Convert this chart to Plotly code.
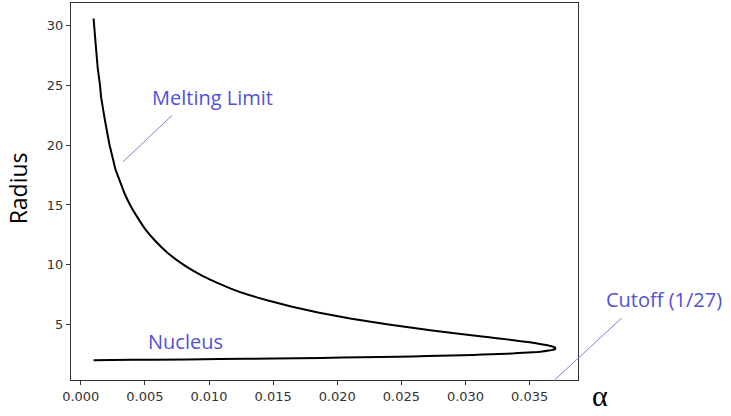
import plotly.graph_objects as go

# Curve (alpha, radius), traversed from the nucleus branch, past the cutoff tip, up the melting limit
alpha = [0.0010, 0.0024, 0.0058, 0.0108, 0.0151, 0.0188, 0.0219, 0.0247, 0.0270, 0.0289,
         0.0306, 0.0320, 0.0332, 0.0341, 0.0349, 0.0356, 0.0361, 0.0364, 0.0367, 0.0369,
         0.0370, 0.0370, 0.0370, 0.0369, 0.0368, 0.0366, 0.0364, 0.0359, 0.0355, 0.0350,
         0.0343, 0.0332, 0.0324, 0.0313, 0.0293, 0.0274, 0.0257, 0.0240, 0.0210, 0.0185,
         0.0164, 0.0146, 0.0130, 0.0117, 0.0106, 0.0096, 0.00875, 0.0080, 0.00676, 0.0058,
         0.00501, 0.0044, 0.00385, 0.0034, 0.00305, 0.0027, 0.00248, 0.00225, 0.0019, 0.00159,
         0.0015, 0.00132, 0.0012, 0.0010]
radius = [2.008, 2.02, 2.05, 2.1, 2.15, 2.2, 2.25, 2.3, 2.35, 2.4,
          2.45, 2.5, 2.55, 2.6, 2.65, 2.7, 2.75, 2.8, 2.85, 2.9,
          2.95, 3.0, 3.05, 3.1, 3.15, 3.2, 3.25, 3.35, 3.42, 3.5,
          3.6, 3.75, 3.85, 4.0, 4.25, 4.5, 4.75, 5.0, 5.5, 6.0,
          6.5, 7.0, 7.5, 8.0, 8.5, 9.0, 9.5, 10, 11, 12,
          13, 14, 15, 16, 17, 18, 19, 20, 22, 24,
          25, 26.5, 28, 30.6]

x_ticks = [0.000, 0.005, 0.010, 0.015, 0.020, 0.025, 0.030, 0.035]
y_ticks = [5, 10, 15, 20, 25, 30]

W, H = 731, 416
L, R, T, B = 70.5, 578.5, 3, 380.5


def px(x):
    return (x - L) / (R - L)


def py(y):
    return (B - y) / (B - T)


fig = go.Figure()
fig.add_trace(go.Scatter(x=alpha, y=radius, mode="lines",
                         line=dict(color="black", width=2, shape="spline", smoothing=0.3),
                         showlegend=False, hoverinfo="skip"))

label_color = "#5252d6"
annots = [
    dict(text="Melting Limit", x=px(150), y=py(98), xanchor="left", yanchor="middle"),
    dict(text="Nucleus", x=px(146), y=py(342), xanchor="left", yanchor="middle"),
    dict(text="Cutoff (1/27)", x=px(605), y=py(300), xanchor="left", yanchor="middle"),
]
annotations = []
for a in annots:
    annotations.append(dict(xref="paper", yref="paper", showarrow=False,
                            font=dict(family="Open Sans", size=20, color=label_color), **a))
annotations.append(dict(xref="paper", yref="paper", x=px(17), y=py(189), text="Radius",
                        textangle=-90, showarrow=False, xanchor="center", yanchor="middle",
                        font=dict(family="Open Sans", size=23, color="black")))
annotations.append(dict(xref="paper", yref="paper", x=px(601), y=py(415), text="α",
                        showarrow=False, xanchor="center", yanchor="bottom",
                        font=dict(family="Liberation Serif", size=30, color="black")))

shapes = [
    dict(type="line", xref="paper", yref="paper", x0=px(122.3), y0=py(162.3), x1=px(171.5), y1=py(115.7),
         line=dict(color="#7f7fe6", width=1)),
    dict(type="line", xref="paper", yref="paper", x0=px(555), y0=py(380.5), x1=px(622.5), y1=py(318.3),
         line=dict(color="#7f7fe6", width=1)),
]

axis_common = dict(showgrid=False, zeroline=False, showline=True, mirror=True,
                   linecolor="#333333", linewidth=1, ticks="outside", ticklen=4,
                   tickcolor="#333333", tickfont=dict(family="DejaVu Sans", size=13, color="#333333"))

fig.update_layout(
    width=W, height=H, margin=dict(l=L, r=W - R, t=T, b=H - B),
    plot_bgcolor="white", paper_bgcolor="white",
    xaxis=dict(range=[-0.00076, 0.03877], tickvals=x_ticks, tickformat=".3f", **axis_common),
    yaxis=dict(range=[0.35, 31.9], tickvals=y_ticks, **axis_common),
    annotations=annotations, shapes=shapes,
)

fig.write_html("out.html")
